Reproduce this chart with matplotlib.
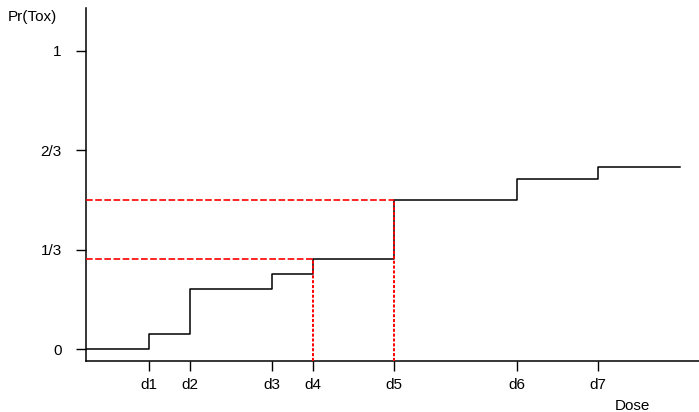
import matplotlib
matplotlib.use("Agg")
import matplotlib.pyplot as plt

# dose positions (arbitrary units) and tick labels
dose_pos = [2, 3, 5, 6, 8, 11, 13]
dose_labels = ["d1", "d2", "d3", "d4", "d5", "d6", "d7"]

# step curve: x break points and probability levels
step_x = [0.45, 2, 3, 5, 6, 8, 11, 13, 15.0]
step_y = [0.0, 0.05, 0.20, 0.25, 0.30, 0.50, 0.57, 0.61, 0.61]

# highlighted doses (d4, d5) and their levels
mark_x = [6, 8]
mark_y = [0.30, 0.50]

ytick_vals = [0, 1/3, 2/3, 1]
ytick_labels = ["0", "1/3", "2/3", "1"]

plt.rcParams["font.family"] = ["Liberation Sans", "DejaVu Sans"]

fig = plt.figure(figsize=(6.99, 4.12), dpi=100)
ax = fig.add_axes([86/699, 1 - 361/412, 1 - 86/699, (361 - 8)/412])

x0, x1 = 0.45, 15.47
y0, y1 = -0.0402, 1.1424
ax.set_xlim(x0, x1)
ax.set_ylim(y0, y1)

ax.step(step_x, step_y, where="post", color="black", lw=1.1, zorder=2)

for mx, my in zip(mark_x, mark_y):
    ax.plot([x0, mx], [my, my], color="red", lw=1.2, ls=(0, (4, 1.5)), zorder=3)
    ax.plot([mx, mx], [y0, my], color="red", lw=1.4, ls=(0, (1.6, 0.9)), zorder=3)

for s in ["top", "right"]:
    ax.spines[s].set_visible(False)
for s in ["left", "bottom"]:
    ax.spines[s].set_linewidth(1.1)

ax.set_xticks(dose_pos)
ax.set_xticklabels(dose_labels, fontsize=11)
ax.set_yticks(ytick_vals)
ax.set_yticklabels(ytick_labels, fontsize=11)
ax.tick_params(axis="x", length=7, width=1, pad=5)
ax.tick_params(axis="y", length=7.5, width=1, pad=10)

fig.text(8/699, 1 - 17/412, "Pr(Tox)", fontsize=11, ha="left", va="center")
fig.text(632/699, 1 - 406/412, "Dose", fontsize=11, ha="center", va="center")

fig.savefig("out.png", dpi=100)
